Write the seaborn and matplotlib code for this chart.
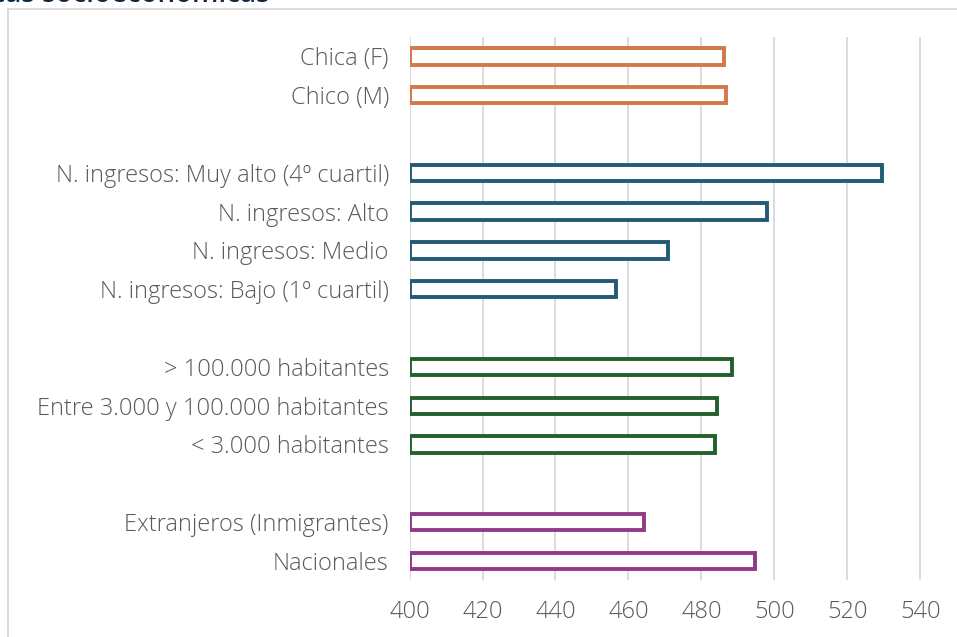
import matplotlib
matplotlib.use("Agg")
import matplotlib.pyplot as plt
import pandas as pd
import seaborn as sns
from matplotlib.patches import Rectangle

# --- data ---
labels = ["Chica (F)", "Chico (M)",
          "N. ingresos: Muy alto (4º cuartil)", "N. ingresos: Alto",
          "N. ingresos: Medio", "N. ingresos: Bajo (1º cuartil)",
          "> 100.000 habitantes", "Entre 3.000 y 100.000 habitantes",
          "< 3.000 habitantes",
          "Extranjeros (Inmigrantes)", "Nacionales"]
values = [486.2, 486.8,
          529.5, 498.0, 470.8, 456.5,
          488.4, 484.3, 483.7,
          464.2, 494.8]
groups = ["Sexo", "Sexo",
          "Ingresos", "Ingresos", "Ingresos", "Ingresos",
          "Hábitat", "Hábitat", "Hábitat",
          "Origen", "Origen"]
group_colors = {"Sexo": "#E97132", "Ingresos": "#156082",
                "Hábitat": "#196B24", "Origen": "#A02B93"}

# empty slots between the groups
order = labels[:2] + [" "] + labels[2:6] + ["  "] + labels[6:9] + ["   "] + labels[9:]

df = pd.DataFrame({"label": labels, "value": values, "group": groups})

# --- plot ---
sns.set_style("white")
plt.rcParams["font.family"] = ["Open Sans", "DejaVu Sans"]

fig = plt.figure(figsize=(9.57, 6.37), dpi=100)
ax = fig.add_axes([0.428, 0.089, 0.545, 0.853])

sns.barplot(data=df, y="label", x="value", hue="group", order=order,
            palette=group_colors, dodge=False, width=0.42, legend=False,
            ax=ax)

# bars start at 400 and are drawn as outlines with a white fill
base = 400
for p in ax.patches:
    ec = p.get_facecolor()
    p.set_x(base)
    p.set_width(p.get_width() - base)
    p.set_facecolor("white")
    p.set_edgecolor(ec)
    p.set_linewidth(2.8)
    p.set_zorder(3)

ax.set_xlim(400, 543)
ax.set_xticks(range(400, 541, 20))
ax.grid(axis="x", color="#D9D9D9", linewidth=1.3, zorder=0)
ax.set_axisbelow(True)
for s in ax.spines.values():
    s.set_visible(False)

ax.set_xlabel("")
ax.set_ylabel("")
ax.tick_params(axis="both", length=0, labelsize=17, labelcolor="#595959")
ax.tick_params(axis="y", pad=15)
ax.tick_params(axis="x", pad=14)
for t in ax.get_xticklabels() + ax.get_yticklabels():
    t.set_fontweight("light")

# chart frame and cropped title
fig.patches.append(Rectangle((8 / 957, -0.05), 1.2, 1 - 9 / 637 + 0.05,
                             transform=fig.transFigure, fill=False,
                             edgecolor="#D9D9D9", linewidth=1.3))
fig.text(270 / 957, 1 - 2.5 / 637, "características socioeconómicas",
         ha="right", va="baseline", fontsize=20, color="#0E2841",
         fontweight="semibold")

fig.savefig("out.png", dpi=100)
